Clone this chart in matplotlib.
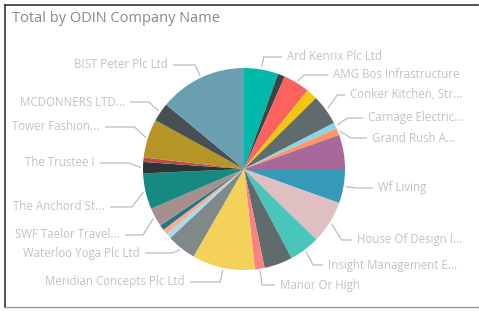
import matplotlib.pyplot as plt
import numpy as np

# slices clockwise from 12 o'clock
companies = ['Ard Kenrix Plc Ltd', 'Slice 2', 'AMG Bos Infrastructure', 'Slice 4',
             'Conker Kitchen, Str...', 'Carnage Electric...', 'Grand Rush A...', 'Slice 8',
             'Wf Living', 'House Of Design I...', 'Insight Management E...', 'Slice 12',
             'Manor Or High', 'Meridian Concepts Plc Ltd', 'Waterloo Yoga Plc Ltd', 'Slice 16',
             'Slice 17', 'Slice 18', 'SWF Taelor Travel...', 'The Anchord St...',
             'The Trustee I', 'Slice 22', 'Tower Fashion...', 'MCDONNERS LTD...',
             'BIST Peter Plc Ltd']
totals = [19.7, 4.1, 15.2, 6.4, 17.5, 3.4, 4.0, 19.7, 19.7, 24.6, 17.6, 16.3, 5.6,
          36.2, 16.9, 3.1, 3.0, 3.0, 10.9, 20.6, 6.5, 2.6, 22.2, 10.8, 50.4]
labelled = [0, 2, 4, 5, 6, 8, 9, 10, 12, 13, 14, 18, 19, 20, 22, 23, 24]

colors = ['#01B8AA', '#374649', '#FD625E', '#F2C80F', '#5F6B6D', '#8AD4EB', '#FE9666',
          '#A66999', '#3599B8', '#DFBFBF', '#4AC5BB', '#5F6B6D', '#FB8281', '#F4D25A',
          '#7F898A', '#A4DDEE', '#FDAB89', '#28738A', '#A78F8F', '#168980', '#293537',
          '#BB4A4A', '#B59525', '#475052', '#6A9FB0']

# label layout (pixel coords, y from top): text anchor x, text y
label_pos = {0: (287, 57), 2: (333, 75), 4: (350, 95), 5: (368, 118), 6: (372, 138),
             8: (378, 188), 9: (357, 240), 10: (328, 265), 12: (280, 285),
             13: (185, 282), 14: (140, 253), 18: (120, 235), 19: (105, 207),
             20: (95, 163), 22: (100, 127), 23: (125, 102), 24: (168, 65)}

W, H = 479, 311
cx, cy, R = 244, H - 169, 101

fig = plt.figure(figsize=(W / 100, H / 100), dpi=100)
ax = fig.add_axes([0, 0, 1, 1])
ax.axis('off')

wedges, _ = ax.pie(totals, colors=colors, startangle=90, counterclock=False,
                   center=(cx, cy), radius=R, wedgeprops=dict(linewidth=0))
ax.set_xlim(0, W)
ax.set_ylim(0, H)
ax.set_aspect('equal')

line_c = '#b5b5b5'
for i in labelled:
    w = wedges[i]
    mid = np.deg2rad((w.theta1 + w.theta2) / 2)
    x0, y0 = cx + (R + 2) * np.cos(mid), cy + (R + 2) * np.sin(mid)
    tx, ty = label_pos[i]
    ty = H - ty
    right = np.cos(mid) > 0
    x1 = cx + (R + 14) * np.cos(mid)
    if right:
        x2 = tx - 5
        x1 = min(x1, x2 - 4)
    else:
        x2 = tx + 5
        x1 = max(x1, x2 + 4)
    ax.plot([x0, x1, x2], [y0, ty, ty], color=line_c, lw=0.8, solid_capstyle='butt')
    ax.text(tx, ty, companies[i], ha='left' if right else 'right', va='center',
            fontsize=8.3, color='#c2c2c2', family='Open Sans')

ax.text(12, H - 19, 'Total by ODIN Company Name', fontsize=10.5, color='#8a8a8a',
        family='Open Sans', va='center', ha='left')

# visual border
ax.plot([5, 5], [H - 5, H - 307], color='#333333', lw=1.2)
ax.plot([5, 478], [H - 5, H - 5], color='#333333', lw=1.2)
ax.plot([5, 478], [H - 307, H - 307], color='#999999', lw=1)

fig.savefig('out.png', dpi=100)
